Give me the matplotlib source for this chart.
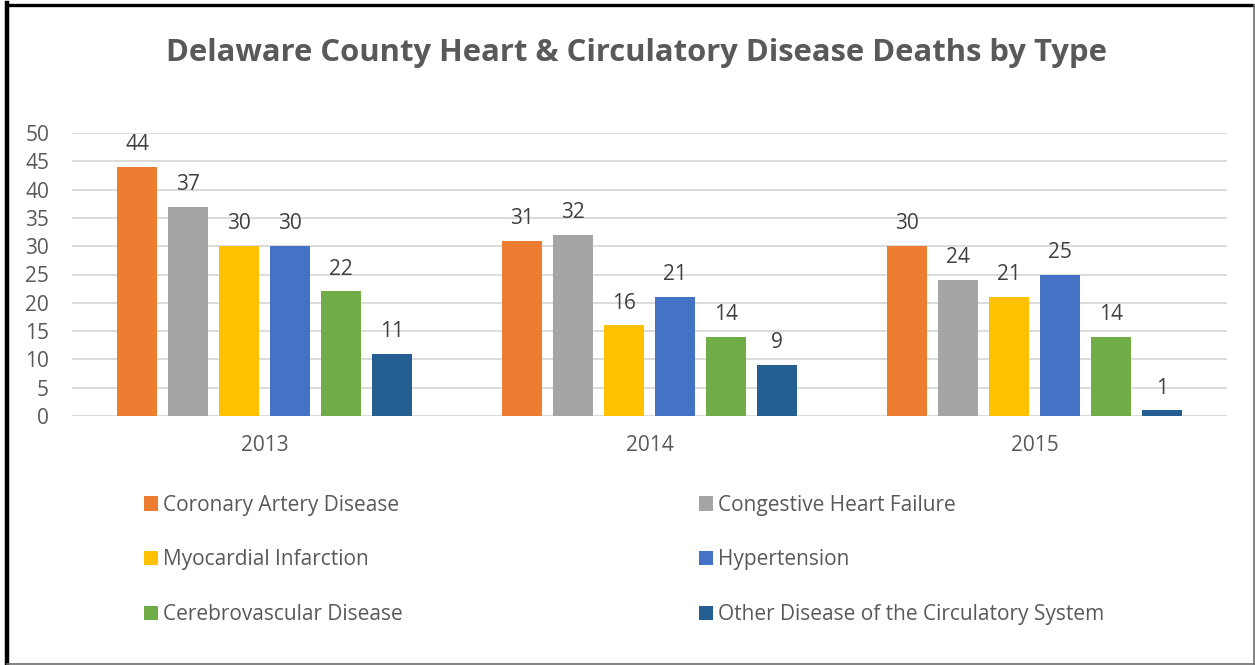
import matplotlib
matplotlib.use("Agg")
import matplotlib.pyplot as plt
from matplotlib.lines import Line2D
import numpy as np

years = ["2013", "2014", "2015"]
series = ["Coronary Artery Disease", "Congestive Heart Failure", "Myocardial Infarction",
          "Hypertension", "Cerebrovascular Disease", "Other Disease of the Circulatory System"]
coronary = [44, 31, 30]
chf = [37, 32, 24]
mi = [30, 16, 21]
hypertension = [30, 21, 25]
cerebro = [22, 14, 14]
other = [11, 9, 1]
values = [coronary, chf, mi, hypertension, cerebro, other]
colors = ["#ED7D31", "#A5A5A5", "#FFC000", "#4472C4", "#70AD47", "#255E91"]
title = "Delaware County Heart & Circulatory Disease Deaths by Type"

plt.rcParams['font.family'] = ['Open Sans', 'DejaVu Sans']
txt = "#595959"
W, H = 1255, 665

fig = plt.figure(figsize=(12.55, 6.65), dpi=100)
ax = fig.add_axes([72/W, 1-416/H, (1227-72)/W, (416-133)/H])

x = np.arange(len(years))
slot = 51/385
width = 40/385
handles = []
for i, (vals, c, name) in enumerate(zip(values, colors, series)):
    pos = x + (i - 2.5) * slot
    b = ax.bar(pos, vals, width=width, color=c, label=name, zorder=3)
    ax.bar_label(b, padding=8.5, fontsize=15, color="#404040")
    handles.append(b)

ax.set_xlim(-0.5, 2.5)
ax.set_ylim(0, 50)
ax.set_yticks(range(0, 51, 5))
ax.yaxis.grid(True, color="#D9D9D9", linewidth=1.3, zorder=0)
ax.set_axisbelow(True)
for s in ax.spines.values():
    s.set_visible(False)
ax.set_xticks(x)
ax.set_xticklabels(years)
ax.tick_params(axis='y', length=0, pad=16.5, labelsize=15, labelcolor=txt)
ax.tick_params(axis='x', length=0, pad=14, labelsize=15, labelcolor=txt)

fig.text(637/W, 1-53/H, title, ha='center', va='center', fontsize=22.3,
         fontweight='bold', color=txt)

leg_kw = dict(frameon=False, fontsize=15, labelcolor=txt, handlelength=0.68,
              handleheight=0.68, handletextpad=0.25, labelspacing=1.62, loc='upper left')
fig.legend([handles[0], handles[2], handles[4]], [series[0], series[2], series[4]],
           bbox_to_anchor=(125/W, 1-476/H), **leg_kw)
fig.legend([handles[1], handles[3], handles[5]], [series[1], series[3], series[5]],
           bbox_to_anchor=(680/W, 1-476/H), **leg_kw)

# frame around figure: thick black left/top, thin grey right/bottom
fig.add_artist(Line2D([7/W, 7/W], [0, 1-3/H], transform=fig.transFigure,
                      color="black", linewidth=3.2, solid_capstyle='projecting'))
fig.add_artist(Line2D([7/W, 1254/W], [1-4.5/H, 1-4.5/H], transform=fig.transFigure,
                      color="black", linewidth=2.4, solid_capstyle='butt'))
fig.add_artist(Line2D([1253.5/W, 1253.5/W], [1-4.5/H, 1-664/H], transform=fig.transFigure,
                      color="#6E6E6E", linewidth=1.2))
fig.add_artist(Line2D([7/W, 1254/W], [1-663.5/H, 1-663.5/H], transform=fig.transFigure,
                      color="#6E6E6E", linewidth=1.2))

fig.savefig("out.png", dpi=100)
